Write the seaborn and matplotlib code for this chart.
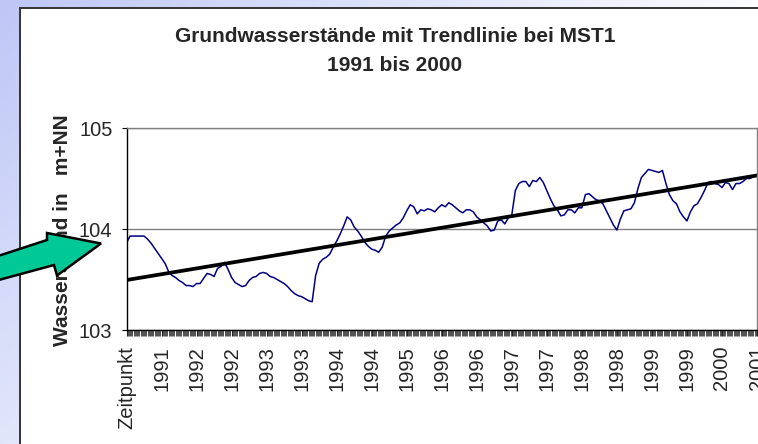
import numpy as np
import matplotlib
matplotlib.use("Agg")
import matplotlib.pyplot as plt
import seaborn as sns
from matplotlib.patches import Rectangle, Polygon
from matplotlib.colors import LinearSegmentedColormap
from matplotlib.ticker import MultipleLocator, FixedLocator

# groundwater level MST1 (m+NN), one value per category
levels = [
    103.86, 103.93, 103.93, 103.93, 103.93, 103.93, 103.90, 103.86, 103.81, 103.76,
    103.71, 103.66, 103.58, 103.54, 103.52, 103.49, 103.47, 103.44, 103.44, 103.43,
    103.46, 103.46, 103.51, 103.56, 103.55, 103.53, 103.61, 103.63, 103.67, 103.60,
    103.52, 103.47, 103.45, 103.43, 103.44, 103.49, 103.52, 103.53, 103.56, 103.57,
    103.56, 103.53, 103.52, 103.50, 103.48, 103.46, 103.43, 103.39, 103.36, 103.34,
    103.33, 103.31, 103.29, 103.28, 103.54, 103.66, 103.70, 103.72, 103.75, 103.82,
    103.88, 103.95, 104.03, 104.12, 104.09, 104.02, 103.98, 103.93, 103.87, 103.83,
    103.80, 103.79, 103.77, 103.82, 103.93, 103.98, 104.01, 104.04, 104.06, 104.11,
    104.18, 104.24, 104.22, 104.15, 104.19, 104.18, 104.20, 104.19, 104.17, 104.21,
    104.24, 104.22, 104.26, 104.24, 104.21, 104.18, 104.16, 104.19, 104.19, 104.17,
    104.12, 104.09, 104.06, 104.03, 103.98, 103.99, 104.08, 104.09, 104.05, 104.11,
    104.14, 104.38, 104.45, 104.47, 104.47, 104.42, 104.48, 104.47, 104.51, 104.46,
    104.38, 104.30, 104.23, 104.19, 104.13, 104.14, 104.19, 104.19, 104.16, 104.21,
    104.21, 104.34, 104.35, 104.32, 104.29, 104.28, 104.25, 104.18, 104.11, 104.04,
    103.99, 104.10, 104.18, 104.19, 104.20, 104.26, 104.40, 104.51, 104.55, 104.59,
    104.58, 104.57, 104.56, 104.58, 104.45, 104.34, 104.28, 104.25, 104.17, 104.12,
    104.08, 104.17, 104.23, 104.25, 104.31, 104.38, 104.46, 104.47, 104.45, 104.44,
    104.41, 104.46, 104.45, 104.39, 104.45, 104.45, 104.47, 104.50, 104.50, 104.52,
    104.54,
]
positions = list(range(len(levels)))

tick_labels = ["Zeitpunkt", "1991", "1992", "1992", "1993", "1993", "1994", "1994",
               "1995", "1996", "1996", "1997", "1997", "1998", "1998", "1999",
               "1999", "2000", "2001"]
label_step = 10
y_ticks = [103, 104, 105]

title_1 = "Grundwasserstände mit Trendlinie bei MST1"
title_2 = "1991 bis 2000"
y_title = "Wasserstand in   m+NN"

sns.set_theme(style="white")
plt.rcParams["font.family"] = ["Liberation Sans", "DejaVu Sans"]

W, H = 758, 444
fig = plt.figure(figsize=(W / 100, H / 100), dpi=100)

# slide background: soft blue gradient
bg = fig.add_axes([0, 0, 1, 1], zorder=-10)
gx, gy = np.meshgrid(np.linspace(0, 1, 200), np.linspace(0, 1, 120))
grad = np.clip(0.95 * gx + 0.55 * gy, 0, 1)
cmap = LinearSegmentedColormap.from_list("slide", ["#bec7f6", "#ffffff"])
bg.imshow(grad, cmap=cmap, aspect="auto", extent=[0, 1, 1, 0])
bg.set_axis_off()

# white chart box
fig.add_artist(Rectangle((20 / W, -0.05), 1.2, (H - 8) / H + 0.05,
                         transform=fig.transFigure, facecolor="white",
                         edgecolor="#333333", linewidth=1.4, zorder=-5))

ax = fig.add_axes([126.5 / W, (H - 330) / H, (757 - 126.5) / W, 202 / H])
sns.lineplot(x=positions, y=levels, ax=ax, color="#000080", linewidth=1.1)
sns.regplot(x=positions, y=levels, ax=ax, scatter=False, ci=None,
            line_kws={"color": "black", "linewidth": 2.7})

ax.set_xlim(0, len(levels) - 1)
ax.set_ylim(103, 105)
ax.set_xlabel("")
ax.set_ylabel("")

ax.xaxis.set_major_locator(FixedLocator(positions[::label_step]))
ax.set_xticklabels(tick_labels, rotation=90, fontsize=14.5)
ax.xaxis.set_minor_locator(MultipleLocator(1 / 3))
ax.tick_params(axis="x", which="major", bottom=True, length=4.5, width=0.8,
               color="#222222", pad=7)
ax.tick_params(axis="x", which="minor", bottom=True, length=4.5, width=0.55,
               color="#222222")

ax.set_yticks(y_ticks)
ax.set_yticklabels([str(v) for v in y_ticks], fontsize=14.5)
ax.tick_params(axis="y", which="major", left=True, length=3.6, width=0.8,
               color="black", pad=6.5)

ax.yaxis.grid(True, color="#808080", linewidth=1.0)
ax.xaxis.grid(False)
for side in ["top", "right"]:
    ax.spines[side].set_color("#808080")
    ax.spines[side].set_linewidth(1.0)
for side in ["left", "bottom"]:
    ax.spines[side].set_color("black")
    ax.spines[side].set_linewidth(1.0)

fig.text(395 / W, (H - 42) / H, title_1, ha="center", va="baseline",
         fontsize=15, fontweight="bold")
fig.text(395 / W, (H - 71) / H, title_2, ha="center", va="baseline",
         fontsize=15, fontweight="bold")
fig.text(62 / W, (H - 230) / H, y_title, rotation=90, ha="center", va="center",
         fontsize=15, fontweight="bold")

# green block arrow pointing at the axis
arrow_pts = [(-5, 257), (47, 240), (47, 233), (101, 243.5), (57, 275.5),
             (54, 265), (-5, 281)]
fig.add_artist(Polygon([(x / W, (H - y) / H) for x, y in arrow_pts],
                       closed=True, transform=fig.transFigure,
                       facecolor="#00c896", edgecolor="black", linewidth=1.8,
                       zorder=20))

fig.savefig("out.png", dpi=100)
